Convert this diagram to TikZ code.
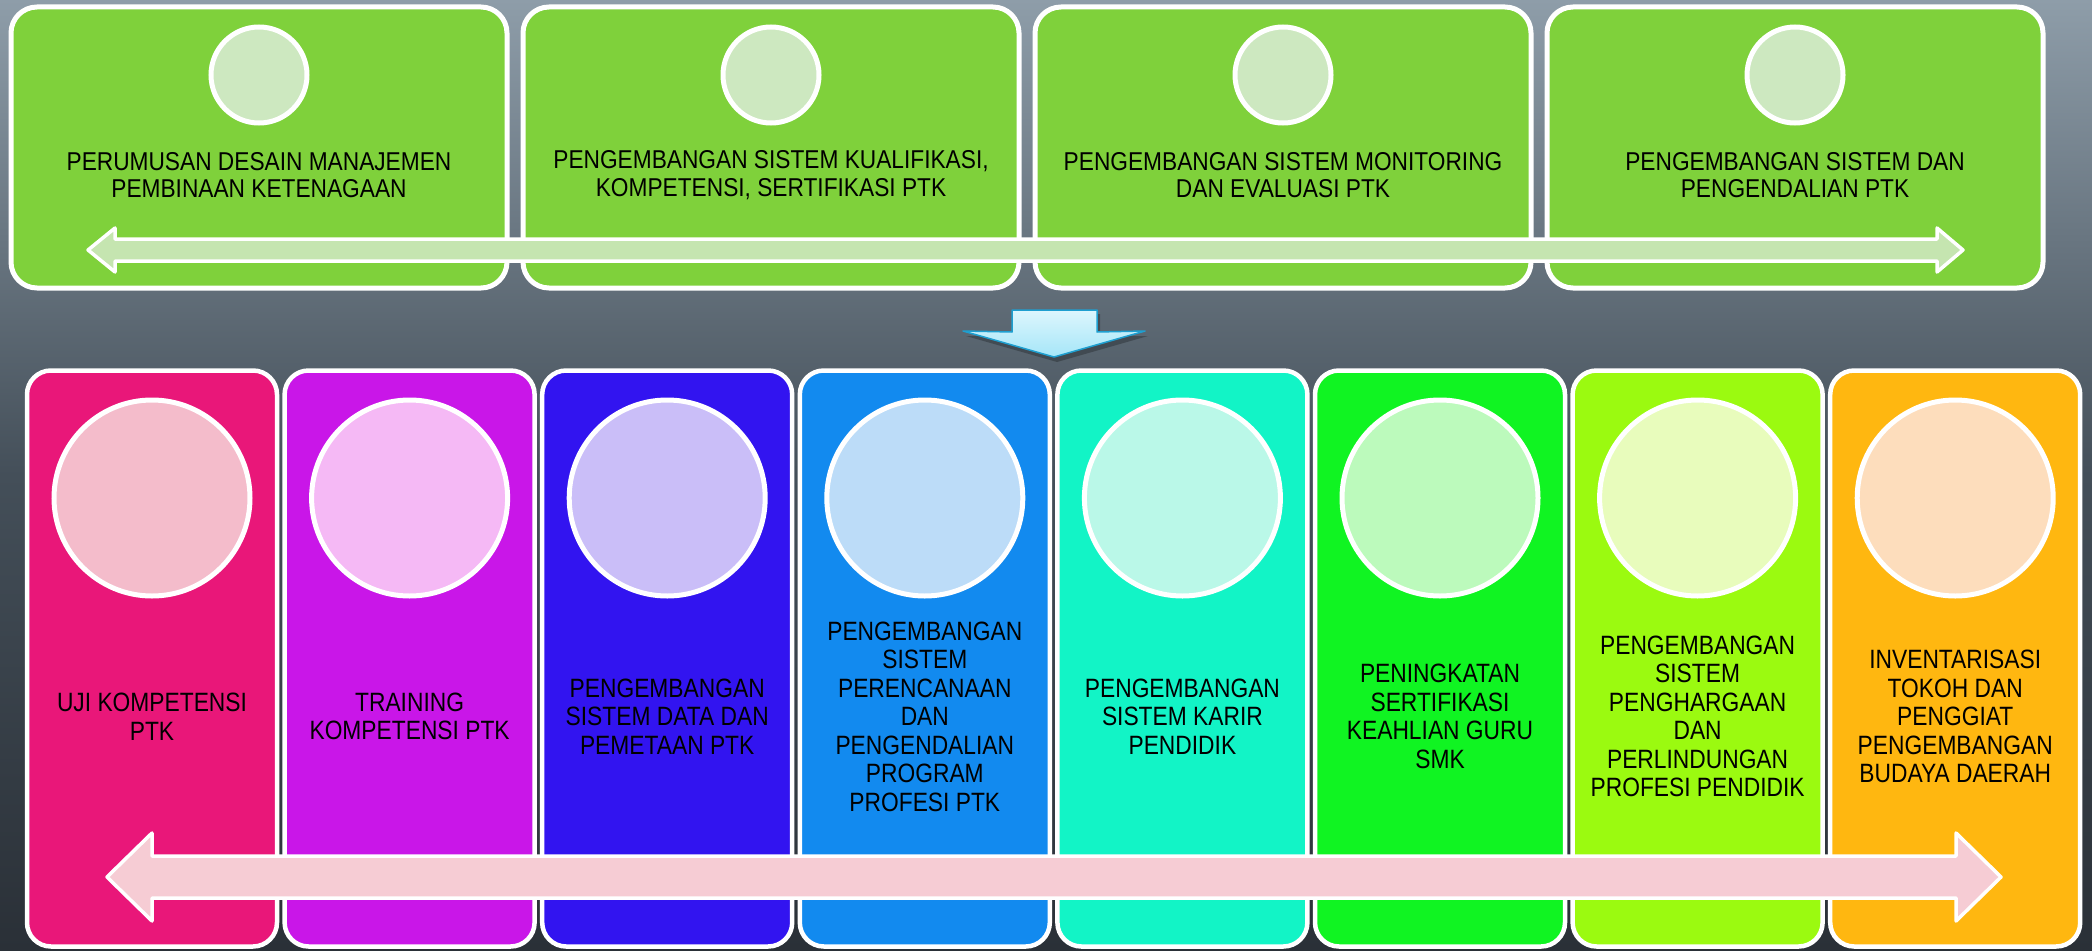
\documentclass[tikz,border=0pt]{standalone}
\usepackage{fontspec}
\usetikzlibrary{calc}
\newfontfamily\tfont[FakeStretch=0.88]{Liberation Sans}
\newfontfamily\bfont[FakeStretch=0.86]{Liberation Sans}
\definecolor{bgtop}{HTML}{8E9DA9}
\definecolor{bgmid}{HTML}{444F59}
\definecolor{bgbot}{HTML}{2A3037}
\definecolor{topgreen}{HTML}{7FD13B}
\definecolor{topdot}{HTML}{CDE8C0}
\definecolor{toparrow}{HTML}{C5E5B0}
\definecolor{botarrow}{HTML}{F6CCD4}
\definecolor{bA}{HTML}{E91779}\definecolor{dA}{HTML}{F4BCCB}
\definecolor{bB}{HTML}{C916E8}\definecolor{dB}{HTML}{F5B9F5}
\definecolor{bC}{HTML}{3214F0}\definecolor{dC}{HTML}{CABEF8}
\definecolor{bD}{HTML}{128AEF}\definecolor{dD}{HTML}{BCDCF8}
\definecolor{bE}{HTML}{12F4C6}\definecolor{dE}{HTML}{BAF8E8}
\definecolor{bF}{HTML}{10F422}\definecolor{dF}{HTML}{BCFABC}
\definecolor{bG}{HTML}{9BFA10}\definecolor{dG}{HTML}{E8FCBC}
\definecolor{bH}{HTML}{FFB710}\definecolor{dH}{HTML}{FDDDBC}
\definecolor{downtop}{HTML}{DDF6FD}
\definecolor{downbot}{HTML}{A5E6F8}
\definecolor{downedge}{HTML}{1E9FD0}
\begin{document}
\begin{tikzpicture}[x=1pt,y=-1pt,
  topbox/.style={draw=white, line width=5pt, fill=topgreen, rounded corners=26pt,
    minimum width=496pt, minimum height=281pt, inner sep=0pt},
  botbox/.style={draw=white, line width=4.5pt, rounded corners=24pt,
    minimum width=250pt, minimum height=576pt, inner sep=0pt},
  dot/.style={circle, draw=white, line width=5pt, inner sep=0pt},
  toptext/.style={font=\tfont\fontsize{25.8}{27.5}\selectfont, align=center, text=black, inner sep=0pt},
  bottext/.style={font=\bfont\fontsize{26.5}{28.5}\selectfont, align=center, text=black, inner sep=0pt},
  bigarrow/.style={draw=white, line width=3.5pt, line join=round}]
\useasboundingbox (0,0) rectangle (2092,950);
\shade[top color=bgtop, bottom color=bgbot, middle color=bgmid] (0,0) rectangle (2092,950);

% top row
\foreach \i/\txt in {1/{PERUMUSAN DESAIN MANAJEMEN\\PEMBINAAN KETENAGAAN},
                     2/{PENGEMBANGAN SISTEM KUALIFIKASI,\\KOMPETENSI, SERTIFIKASI PTK},
                     3/{PENGEMBANGAN SISTEM MONITORING\\DAN EVALUASI PTK},
                     4/{PENGEMBANGAN SISTEM DAN\\PENGENDALIAN PTK}}{
  \node[topbox] (t\i) at ({259+512*(\i-1)},147.5) {};
  \node[dot, fill=topdot, minimum size=96pt] (tc\i) at ({259+512*(\i-1)},75) {};
  \node[toptext] (tt\i) at ({259+512*(\i-1)},175) {\txt};
}

% top double arrow
\coordinate (tl) at (88,250);
\coordinate (tr) at (1963,250);
\draw[bigarrow, fill=toparrow]
  (tl) -- ++(27,-22) -- ++(0,11) -- ($(tr)+(-26,-11)$) -- ++(0,-11) -- (tr)
  -- ++(-26,22) -- ++(0,-11) -- ($(tl)+(27,11)$) -- ++(0,11) -- cycle;

% down arrow
\coordinate (dtip) at (1054,357);
\fill[black, opacity=0.25] (1015,314) -- (1100,314) -- (1100,336) -- (1148,336) -- (1057,362) -- (966,336) -- (1015,336) -- cycle;
\shade[top color=downtop, bottom color=downbot, draw=downedge, line width=1.5pt, line join=round]
  (1012,310) -- (1097,310) -- (1097,332) -- (1145,331) -- (dtip) -- (963,331) -- (1012,332) -- cycle;

% bottom row
\foreach \i/\b/\d/\txt in {
  1/bA/dA/{UJI KOMPETENSI\\PTK},
  2/bB/dB/{TRAINING\\KOMPETENSI PTK},
  3/bC/dC/{PENGEMBANGAN\\SISTEM DATA DAN\\PEMETAAN PTK},
  4/bD/dD/{PENGEMBANGAN\\SISTEM\\PERENCANAAN\\DAN\\PENGENDALIAN\\PROGRAM\\PROFESI PTK},
  5/bE/dE/{PENGEMBANGAN\\SISTEM KARIR\\PENDIDIK},
  6/bF/dF/{PENINGKATAN\\SERTIFIKASI\\KEAHLIAN GURU\\SMK},
  7/bG/dG/{PENGEMBANGAN\\SISTEM\\PENGHARGAAN\\DAN\\PERLINDUNGAN\\PROFESI PENDIDIK},
  8/bH/dH/{INVENTARISASI\\TOKOH DAN\\PENGGIAT\\PENGEMBANGAN\\BUDAYA DAERAH}}{
  \node[botbox, fill=\b] (b\i) at ({152+257.6*(\i-1)},658.5) {};
  \node[dot, fill=\d, minimum size=196pt] (bc\i) at ({152+257.6*(\i-1)},498) {};
  \node[bottext] (bt\i) at ({152+257.6*(\i-1)},716.5) {\txt};
}

% bottom double arrow
\coordinate (bl) at (107,877);
\coordinate (br) at (2001,877);
\draw[bigarrow, fill=botarrow]
  (bl) -- ++(45,-44) -- ++(0,23) -- ($(br)+(-45,-21)$) -- ++(0,-23) -- (br)
  -- ++(-45,44) -- ++(0,-23) -- ($(bl)+(45,21)$) -- ++(0,23) -- cycle;
\end{tikzpicture}
\end{document}
